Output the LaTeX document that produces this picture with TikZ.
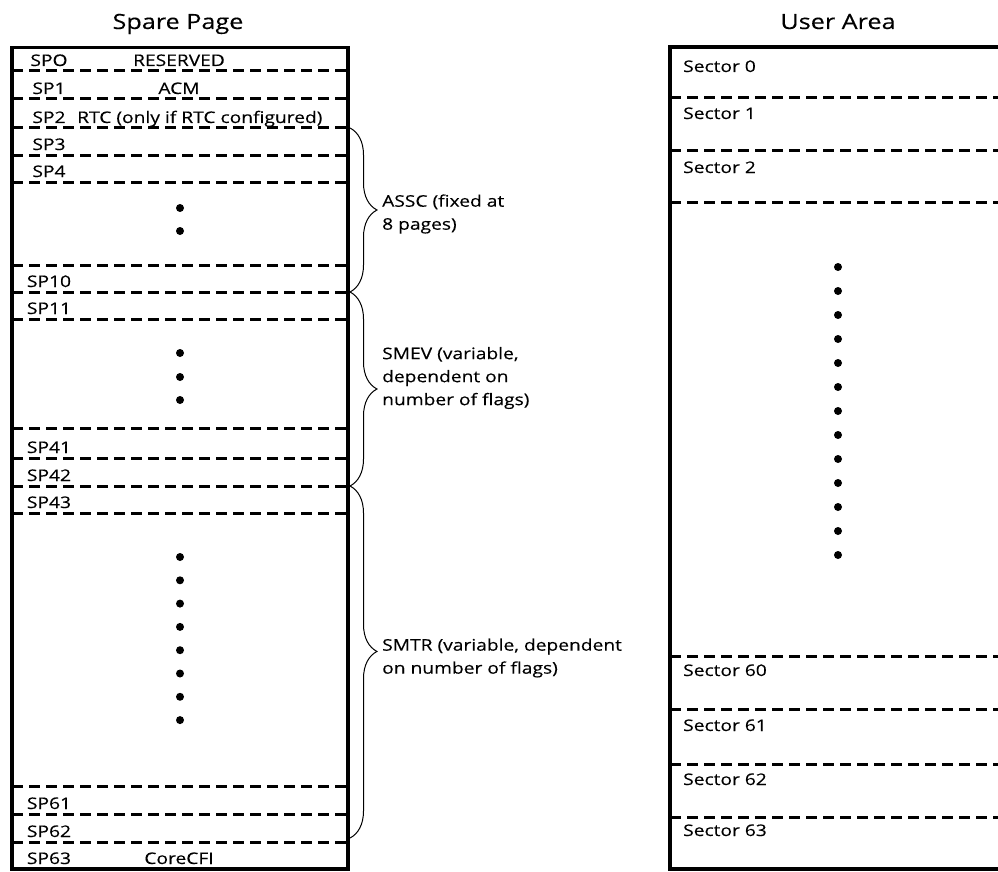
\documentclass[tikz,border=0pt]{standalone}
\usepackage{fontspec}
\setmainfont{Open Sans}[FakeStretch=1.2, FakeBold=0.25]
\usetikzlibrary{decorations.pathreplacing}

\begin{document}
\begin{tikzpicture}[x=1pt, y=-1pt,
    lbl/.style={font=\fontsize{16}{19}\selectfont, inner sep=0pt, anchor=base},
    ttl/.style={font=\fontsize{21}{25}\selectfont, inner sep=0pt, anchor=base},
    note/.style={font=\fontsize{16}{23}\selectfont, inner sep=0pt, anchor=west, align=left},
    frame/.style={line width=3.2pt},
    sep/.style={line width=3pt, dash pattern=on 11pt off 6pt},
    curly/.style={line width=1pt, decorate, decoration={brace, amplitude=27pt}}]
    \useasboundingbox (0,0) rectangle (998,872);

    % Titles
    \node[ttl] (spare) at (178,29) {Spare Page};
    \node[ttl] (user) at (838,29) {User Area};

    % Spare page frame and page separators
    \draw[frame] (12,47.7) rectangle (348,869);
    \foreach \y in {70.7,99,127.7,155,182,265,292,319,428.5,458,486,513,786.5,814,842}
        \draw[sep] (12,\y) -- (348,\y);

    % Page labels
    \node[lbl] (sp0) at (49,66) {SPO};
    \node[lbl] (sp1) at (49,94) {SP1};
    \node[lbl] (sp2) at (49,123) {SP2};
    \node[lbl] (sp3) at (49,150) {SP3};
    \node[lbl] (sp4) at (49,177) {SP4};
    \node[lbl] (sp10) at (49,287) {SP10};
    \node[lbl] (sp11) at (49,314) {SP11};
    \node[lbl] (sp41) at (49,453) {SP41};
    \node[lbl] (sp42) at (49,481) {SP42};
    \node[lbl] (sp43) at (49,508) {SP43};
    \node[lbl] (sp61) at (49,809) {SP61};
    \node[lbl] (sp62) at (49,837) {SP62};
    \node[lbl] (sp63) at (49,864) {SP63};

    % Page contents
    \node[lbl] (reserved) at (179,66) {RESERVED};
    \node[lbl] (acm) at (179,94) {ACM};
    \node[lbl, anchor=base west] (rtc) at (77,123) {RTC (only if RTC configured)};
    \node[lbl] (corecfi) at (179,864) {CoreCFI};

    % Dots for skipped pages
    \foreach \y in {208,231,353,377,400}
        \fill (180,\y) circle (4);
    \foreach \k in {0,...,7}
        \fill (180,557+23.3*\k) circle (4);

    % Braces
    \draw[curly] (350,128) -- (350,292);
    \draw[curly] (350,292) -- (350,486);
    \draw[curly, decoration={aspect=0.47}] (350,486) -- (350,838);
    \node[note] (assc) at (382,214) {ASSC (fixed at\\8 pages)};
    \node[note] (smev) at (382,378) {SMEV (variable,\\dependent on\\number of flags)};
    \node[note] (smtr) at (382,658) {SMTR (variable, dependent\\on number of flags)};

    % User area frame and sector separators
    \draw[frame] (1003,47) -- (670,47) -- (670,869) -- (1003,869);
    \foreach \y in {98,150,202,656,709,764,817}
        \draw[sep] (670,\y) -- (1003,\y);

    % Sector labels
    \node[lbl, anchor=base west] (sec0) at (683,72) {Sector 0};
    \node[lbl, anchor=base west] (sec1) at (683,119) {Sector 1};
    \node[lbl, anchor=base west] (sec2) at (683,173) {Sector 2};
    \node[lbl, anchor=base west] (sec60) at (683,676) {Sector 60};
    \node[lbl, anchor=base west] (sec61) at (683,731) {Sector 61};
    \node[lbl, anchor=base west] (sec62) at (683,785) {Sector 62};
    \node[lbl, anchor=base west] (sec63) at (683,836) {Sector 63};

    % Dots for skipped sectors
    \foreach \k in {0,...,12}
        \fill (838,267+24*\k) circle (4);
\end{tikzpicture}
\end{document}
